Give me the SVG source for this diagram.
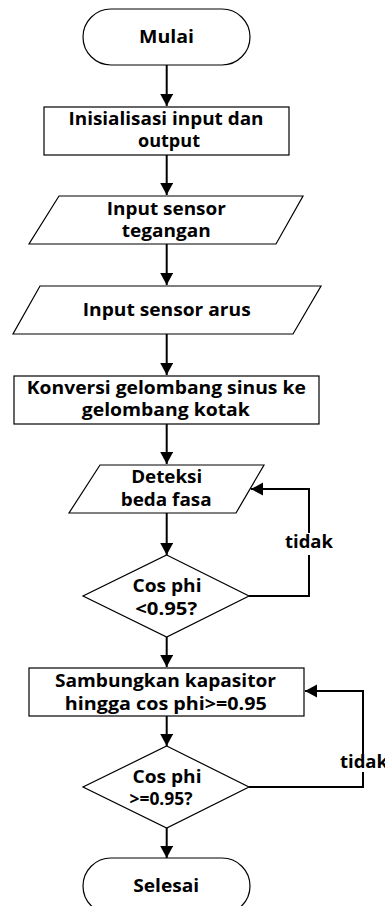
<svg xmlns="http://www.w3.org/2000/svg" width="385" height="906" viewBox="0 0 385 906">
<style>
.s{fill:#fff;stroke:#000;stroke-width:1.2}
.t{font-family:"Open Sans","Noto Sans",sans-serif;font-weight:bold;font-size:17.5px;fill:#000;text-anchor:middle}
.c{fill:none;stroke:#000;stroke-width:2}
</style>
<defs>
<marker id="ah" markerUnits="userSpaceOnUse" markerWidth="14" markerHeight="14" refX="12" refY="6.5" orient="auto">
<path d="M0,0 L12,6.5 L0,13 z" fill="#000"/>
</marker>
</defs>
<rect width="385" height="906" fill="#fff"/>
<g id="connectors">
<path class="c" d="M166.7,65 V106" marker-end="url(#ah)"/>
<path class="c" d="M166.7,155 V195" marker-end="url(#ah)"/>
<path class="c" d="M166.7,244 V285" marker-end="url(#ah)"/>
<path class="c" d="M166.7,334 V375" marker-end="url(#ah)"/>
<path class="c" d="M166.7,424 V464" marker-end="url(#ah)"/>
<path class="c" d="M166.7,513 V555" marker-end="url(#ah)"/>
<path class="c" d="M166.7,637 V667" marker-end="url(#ah)"/>
<path class="c" d="M166.7,716 V746" marker-end="url(#ah)"/>
<path class="c" d="M166.7,828 V858" marker-end="url(#ah)"/>
<path class="c" d="M249,596 H309 V489 H251" marker-end="url(#ah)"/>
<path class="c" d="M249,787 H363 V691 H305" marker-end="url(#ah)"/>
<g id="label1"><rect x="283" y="533" width="52" height="22" fill="#fff"/><text class="t" x="309" y="548" textLength="48" lengthAdjust="spacingAndGlyphs">tidak</text></g>
<g id="label2"><rect x="338" y="754" width="50" height="18" fill="#fff"/><text class="t" x="364" y="768" textLength="48" lengthAdjust="spacingAndGlyphs">tidak</text></g>
</g>
<g id="mulai"><rect class="s" x="83" y="9" width="167" height="56" rx="28"/><text class="t" x="166.5" y="43" textLength="55" lengthAdjust="spacingAndGlyphs">Mulai</text></g>
<g id="inisialisasi"><rect class="s" x="44" y="107" width="245" height="48"/><text class="t" x="166" y="125" textLength="195" lengthAdjust="spacingAndGlyphs">Inisialisasi input dan</text><text class="t" x="169" y="147" textLength="62" lengthAdjust="spacingAndGlyphs">output</text></g>
<g id="input-tegangan"><polygon class="s" points="59,196 303,196 276,244 29,244"/><text class="t" x="166.3" y="215" textLength="119" lengthAdjust="spacingAndGlyphs">Input sensor</text><text class="t" x="166.2" y="237" textLength="89" lengthAdjust="spacingAndGlyphs">tegangan</text></g>
<g id="input-arus"><polygon class="s" points="40,286 321,286 293,334 13,334"/><text class="t" x="166.7" y="316" textLength="168" lengthAdjust="spacingAndGlyphs">Input sensor arus</text></g>
<g id="konversi"><rect class="s" x="14" y="376" width="305" height="48"/><text class="t" x="166.3" y="394" textLength="279" lengthAdjust="spacingAndGlyphs">Konversi gelombang sinus ke</text><text class="t" x="165.8" y="416" textLength="168" lengthAdjust="spacingAndGlyphs">gelombang kotak</text></g>
<g id="deteksi"><polygon class="s" points="100,465 264,465 236,513 69,513"/><text class="t" x="166.7" y="483" textLength="71" lengthAdjust="spacingAndGlyphs">Deteksi</text><text class="t" x="166.2" y="506" textLength="91" lengthAdjust="spacingAndGlyphs">beda fasa</text></g>
<g id="cek1"><polygon class="s" points="166.7,555 249,596 166.7,637 83,596"/><text class="t" x="167" y="592" textLength="69" lengthAdjust="spacingAndGlyphs">Cos phi</text><text class="t" x="166.2" y="615" textLength="62" lengthAdjust="spacingAndGlyphs">&lt;0.95?</text></g>
<g id="sambungkan"><rect class="s" x="29" y="668" width="275" height="48"/><text class="t" x="165.5" y="687" textLength="221" lengthAdjust="spacingAndGlyphs">Sambungkan kapasitor</text><text class="t" x="165.8" y="710" textLength="202" lengthAdjust="spacingAndGlyphs">hingga cos phi&gt;=0.95</text></g>
<g id="cek2"><polygon class="s" points="166.7,746 249,787 166.7,828 83,787"/><text class="t" x="167" y="783" textLength="69" lengthAdjust="spacingAndGlyphs">Cos phi</text><text class="t" x="161" y="805" textLength="63" lengthAdjust="spacingAndGlyphs">&gt;=0.95?</text></g>
<g id="selesai"><rect class="s" x="83" y="858" width="167" height="56" rx="28"/><text class="t" x="166.2" y="892" textLength="66" lengthAdjust="spacingAndGlyphs">Selesai</text></g>
</svg>
